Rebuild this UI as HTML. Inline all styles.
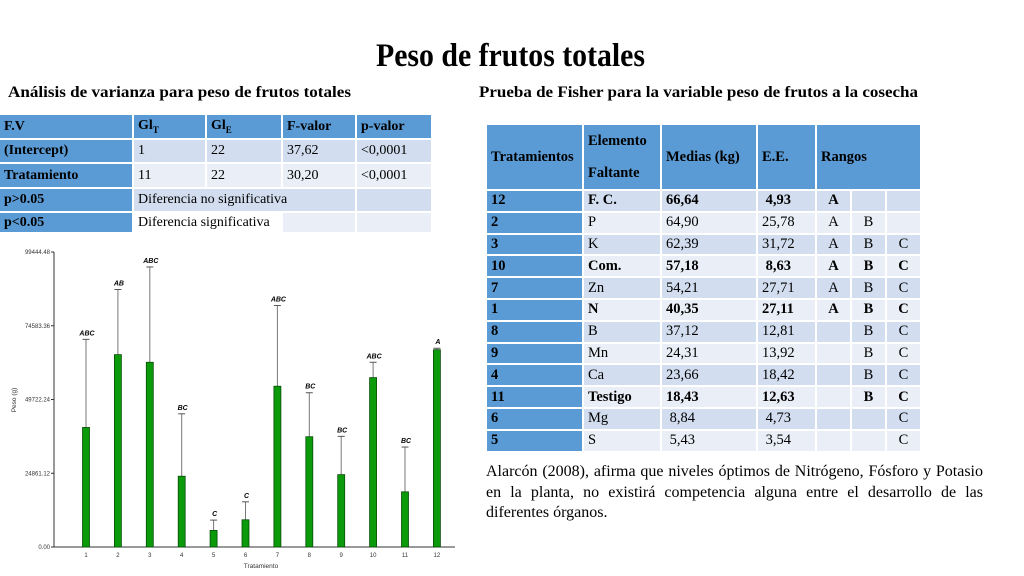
<!DOCTYPE html>
<html><head><meta charset="utf-8">
<style>
body{margin:0;width:1024px;height:576px;background:#fff;position:relative;overflow:hidden;font-family:"Liberation Serif",serif;}
.t{position:absolute;border-collapse:separate;border-spacing:0;table-layout:fixed;font-family:"Liberation Serif",serif;color:#000;}
.t td{padding:0 0 0 4px;border-right:2px solid #fff;border-bottom:2px solid #fff;white-space:nowrap;overflow:hidden;}
.h td{background:#5b9bd5;font-weight:bold;}
.a td{background:#d2deef;}
.b td{background:#eaeff7;}
td.k{background:#5b9bd5 !important;font-weight:bold;}
.c{text-align:center;padding:0 !important;}
.bd{font-weight:bold;}
#para{position:absolute;left:486px;top:462px;width:497px;font-size:16px;line-height:20.5px;text-align:justify;text-align-last:left;}
</style></head><body>
<svg width="1024" height="110" style="position:absolute;left:0;top:0">
<text x="376" y="66" font-family="Liberation Serif" font-weight="bold" font-size="33" textLength="269" lengthAdjust="spacingAndGlyphs">Peso de frutos totales</text>
<text x="8" y="97" font-family="Liberation Serif" font-weight="bold" font-size="16" textLength="343" lengthAdjust="spacingAndGlyphs">Análisis de varianza para peso de frutos totales</text>
<text x="479" y="97" font-family="Liberation Serif" font-weight="bold" font-size="16" textLength="439" lengthAdjust="spacingAndGlyphs">Prueba de Fisher para la variable peso de frutos a la cosecha</text>
</svg>

<table class="t" style="left:0;top:115px;width:433px;font-size:14px">
<colgroup><col style="width:134px"><col style="width:73px"><col style="width:76px"><col style="width:74px"><col style="width:76px"></colgroup>
<tr class="h" style="height:25px"><td>F.V</td><td>Gl<sub style="font-size:9px">T</sub></td><td>Gl<sub style="font-size:9px">E</sub></td><td>F-valor</td><td>p-valor</td></tr>
<tr class="a" style="height:24px"><td class="k">(Intercept)</td><td>1</td><td>22</td><td>37,62</td><td>&lt;0,0001</td></tr>
<tr class="b" style="height:25px"><td class="k">Tratamiento</td><td>11</td><td>22</td><td>30,20</td><td>&lt;0,0001</td></tr>
<tr class="a" style="height:24px"><td class="k">p&gt;0.05</td><td colspan="3">Diferencia no significativa</td><td></td></tr>
<tr class="b" style="height:21px"><td class="k">p&lt;0.05</td><td colspan="2" style="background:#fff">Diferencia significativa</td><td></td><td></td></tr>
</table>

<table class="t" style="left:487px;top:125px;width:435px;font-size:14.5px">
<colgroup><col style="width:97px"><col style="width:78px"><col style="width:96px"><col style="width:59px"><col style="width:35px"><col style="width:35px"><col style="width:35px"></colgroup>
<tr class="h" style="height:60px"><td>Tratamientos</td><td style="line-height:32px;white-space:normal">Elemento<br>Faltante</td><td>Medias (kg)</td><td>E.E.</td><td colspan="3">Rangos</td></tr>
<tr class="a bd" style="height:21.8px"><td class="k">12</td><td>F. C.</td><td>66,64</td><td>&nbsp;4,93</td><td class="c">A</td><td></td><td></td></tr>
<tr class="b" style="height:21.8px"><td class="k">2</td><td>P</td><td>64,90</td><td>25,78</td><td class="c">A</td><td class="c">B</td><td></td></tr>
<tr class="a" style="height:21.8px"><td class="k">3</td><td>K</td><td>62,39</td><td>31,72</td><td class="c">A</td><td class="c">B</td><td class="c">C</td></tr>
<tr class="b bd" style="height:21.8px"><td class="k">10</td><td>Com.</td><td>57,18</td><td>&nbsp;8,63</td><td class="c">A</td><td class="c">B</td><td class="c">C</td></tr>
<tr class="a" style="height:21.8px"><td class="k">7</td><td>Zn</td><td>54,21</td><td>27,71</td><td class="c">A</td><td class="c">B</td><td class="c">C</td></tr>
<tr class="b bd" style="height:21.8px"><td class="k">1</td><td>N</td><td>40,35</td><td>27,11</td><td class="c">A</td><td class="c">B</td><td class="c">C</td></tr>
<tr class="a" style="height:21.8px"><td class="k">8</td><td>B</td><td>37,12</td><td>12,81</td><td></td><td class="c">B</td><td class="c">C</td></tr>
<tr class="b" style="height:21.8px"><td class="k">9</td><td>Mn</td><td>24,31</td><td>13,92</td><td></td><td class="c">B</td><td class="c">C</td></tr>
<tr class="a" style="height:21.8px"><td class="k">4</td><td>Ca</td><td>23,66</td><td>18,42</td><td></td><td class="c">B</td><td class="c">C</td></tr>
<tr class="b bd" style="height:21.8px"><td class="k">11</td><td>Testigo</td><td>18,43</td><td>12,63</td><td></td><td class="c">B</td><td class="c">C</td></tr>
<tr class="a" style="height:21.8px"><td class="k">6</td><td>Mg</td><td>&nbsp;8,84</td><td>&nbsp;4,73</td><td></td><td></td><td class="c">C</td></tr>
<tr class="b" style="height:21.8px"><td class="k">5</td><td>S</td><td>&nbsp;5,43</td><td>&nbsp;3,54</td><td></td><td></td><td class="c">C</td></tr>
</table>

<div id="para">Alarcón (2008), afirma que niveles óptimos de Nitrógeno, Fósforo y Potasio en la planta, no existirá competencia alguna entre el desarrollo de las diferentes órganos.</div>

<svg id="chart" width="470" height="330" style="position:absolute;left:0;top:246px"></svg>
<script>
const categories=["1","2","3","4","5","6","7","8","9","10","11","12"];
const means=[40300,64850,62270,23860,5600,9180,54200,37180,24400,57100,18600,66500];
const errTops=[70000,86800,94400,44900,9070,15230,81400,52000,37300,62270,33700,67000];
const groups=["ABC","AB","ABC","BC","C","C","ABC","BC","BC","ABC","BC","A"];
const yTicks=[0,24861.12,49722.24,74583.36,99444.48];
const yTickLabels=["0.00","24861.12","49722.24","74583.36","99444.48"];
const OY=246;
const svg=document.getElementById('chart');
const NS='http://www.w3.org/2000/svg';
const y0=547-OY, yTop=252-OY, ymax=99444.48;
function ys(v){return y0-(v/ymax)*(y0-yTop);}
function xs(i){return 86+i*31.9;}
function mk(tag,attrs,txt){const e=document.createElementNS(NS,tag);for(const k in attrs)e.setAttribute(k,attrs[k]);if(txt!==undefined)e.textContent=txt;svg.appendChild(e);return e;}
let e;
e=mk('line',{x1:54,y1:yTop,x2:54,y2:y0,stroke:'#333','stroke-width':1});


e=mk('line',{x1:54,y1:y0,x2:455,y2:y0,stroke:'#333','stroke-width':1});


yTicks.forEach((t,i)=>{
  e=mk('line',{x1:51,y1:ys(t),x2:54,y2:ys(t),stroke:'#333'});
  
  
  e=mk('text',{x:50,y:ys(t)+2,'font-size':6,'text-anchor':'end','font-family':'Liberation Sans',fill:'#333'},yTickLabels[i]);
  
  
});
categories.forEach((c,i)=>{
  const x=xs(i);
  e=mk('line',{x1:x,y1:ys(errTops[i]),x2:x,y2:ys(means[i]),stroke:'#777','stroke-width':1});
  
  
  e=mk('line',{x1:x-3.5,y1:ys(errTops[i]),x2:x+3.5,y2:ys(errTops[i]),stroke:'#555','stroke-width':1});
  
  
  e=mk('rect',{x:x-3.5,y:ys(means[i]),width:7,height:y0-ys(means[i]),fill:'#0a9a0a',stroke:'#0b4d0b','stroke-width':0.8});
  
  
  e=mk('text',{x:x+1,y:ys(errTops[i])-4,'font-size':7,'text-anchor':'middle','font-family':'Liberation Sans','font-weight':'bold','font-style':'italic'},groups[i]);
  
  
  e=mk('text',{x:x,y:y0+10,'font-size':6,'text-anchor':'middle','font-family':'Liberation Sans',fill:'#333'},c);
  
  
});
e=mk('text',{x:261,y:y0+21,'font-size':6.5,'text-anchor':'middle','font-family':'Liberation Sans',fill:'#333'},'Tratamiento');


e=mk('text',{x:0,y:0,'font-size':6.5,'text-anchor':'middle','font-family':'Liberation Sans',fill:'#333',transform:'translate(16,'+(400-OY)+') rotate(-90)'},'Peso (g)');


</script>
</body></html>
